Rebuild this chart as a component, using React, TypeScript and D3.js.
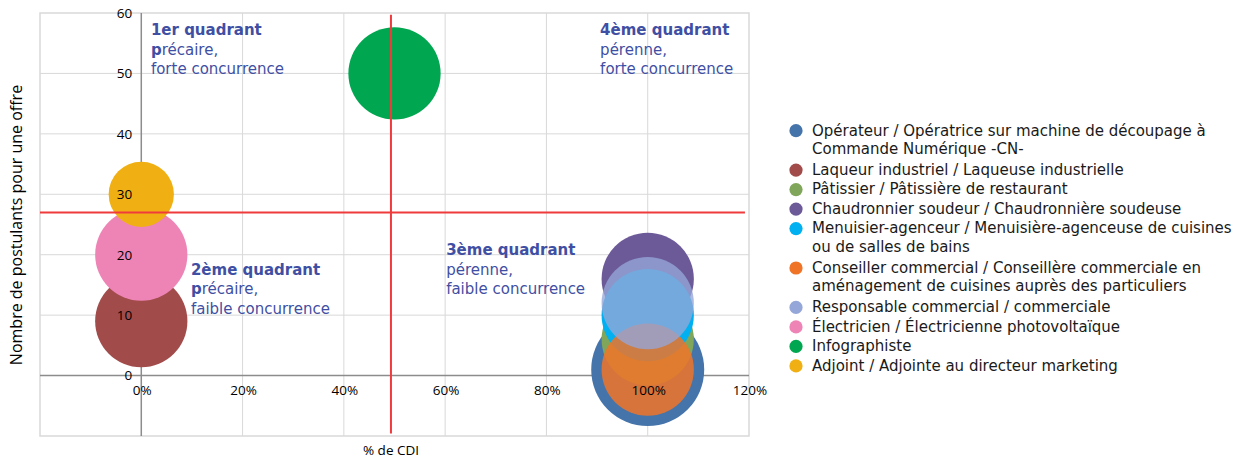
import React, { useEffect, useRef } from 'react';
import * as d3 from 'd3';

// Jobs (series), in legend / drawing order
const jobs = [
  'Opérateur / Opératrice sur machine de découpage à Commande Numérique -CN-',
  'Laqueur industriel / Laqueuse industrielle',
  'Pâtissier / Pâtissière de restaurant',
  'Chaudronnier soudeur / Chaudronnière soudeuse',
  'Menuisier-agenceur / Menuisière-agenceuse de cuisines ou de salles de bains',
  'Conseiller commercial / Conseillère commerciale en aménagement de cuisines auprès des particuliers',
  'Responsable commercial / commerciale',
  'Électricien / Électricienne photovoltaïque',
  'Infographiste',
  'Adjoint / Adjointe au directeur marketing',
];
const cdiShare = [100, 0, 100, 100, 100, 100, 100, 0, 50, 0];        // % de CDI
const applicants = [1, 9, 6, 16, 10, 1, 12, 20, 50, 30];            // postulants par offre
const bubbleSize = [3, 2, 2, 2, 2, 2, 2, 2, 2, 1];
const colors = ['#4574aa', '#a24b4b', '#7fa65a', '#6c5a98', '#00b0f0', '#f07428', '#95a6d8', '#ee84b5', '#00a650', '#f0b013'];
const opacities = [1, 1, 1, 1, 1, 0.85, 0.78, 1, 1, 1];

const xTicks = [0, 20, 40, 60, 80, 100, 120];
const yTicks = [0, 10, 20, 30, 40, 50, 60];

// Seuils (lignes rouges)
const cdiThreshold = 49.3;
const applicantThreshold = 27;

const quadrants = [
  { title: '1er quadrant', l1: 'précaire,', l2: 'forte concurrence', x: 1.9, y: 56.4 },
  { title: '2ème quadrant', l1: 'précaire,', l2: 'faible concurrence', x: 9.8, y: 16.7 },
  { title: '3ème quadrant', l1: 'pérenne,', l2: 'faible concurrence', x: 60.2, y: 20.0 },
  { title: '4ème quadrant', l1: 'pérenne,', l2: 'forte concurrence', x: 90.6, y: 56.4 },
];

const W = 1253;
const H = 459;

export default function App() {
  const ref = useRef<SVGSVGElement>(null);

  useEffect(() => {
    if (!ref.current) return;
    const svg = d3.select(ref.current);
    svg.selectAll('*').remove();

    const x = d3.scaleLinear().domain([-20, 120]).range([40, 749]);
    const y = d3.scaleLinear().domain([-10, 60]).range([436, 13]);
    const r = d3.scaleSqrt().domain([0, d3.max(bubbleSize) as number]).range([0, 56.5]);

    const grid = svg.append('g');
    // vertical gridlines
    grid.selectAll('line.vx')
      .data(xTicks.filter(t => t > 0 && t < 120))
      .enter().append('line')
      .attr('x1', d => x(d)).attr('x2', d => x(d))
      .attr('y1', y(60)).attr('y2', y(-10))
      .attr('stroke', '#d9d9d9').attr('stroke-width', 1);
    // horizontal gridlines
    grid.selectAll('line.hy')
      .data(yTicks.filter(t => t > 0 && t < 60))
      .enter().append('line')
      .attr('x1', x(-20)).attr('x2', x(120))
      .attr('y1', d => y(d)).attr('y2', d => y(d))
      .attr('stroke', '#d9d9d9').attr('stroke-width', 1);
    // plot border
    grid.append('rect')
      .attr('x', x(-20)).attr('y', y(60))
      .attr('width', x(120) - x(-20)).attr('height', y(-10) - y(60))
      .attr('fill', 'none').attr('stroke', '#d9d9d9').attr('stroke-width', 1.5);

    // axes lines at zero
    grid.append('line')
      .attr('x1', x(-20)).attr('x2', x(120)).attr('y1', y(0)).attr('y2', y(0))
      .attr('stroke', '#8c8c8c').attr('stroke-width', 1.5);
    grid.append('line')
      .attr('x1', x(0)).attr('x2', x(0)).attr('y1', y(60)).attr('y2', y(-10))
      .attr('stroke', '#8c8c8c').attr('stroke-width', 1.5);

    // bubbles
    svg.append('g').selectAll('circle')
      .data(jobs.map((name, i) => ({ name, i })))
      .enter().append('circle')
      .attr('cx', d => x(cdiShare[d.i]))
      .attr('cy', d => y(applicants[d.i]))
      .attr('r', d => r(bubbleSize[d.i]))
      .attr('fill', d => colors[d.i])
      .attr('fill-opacity', d => opacities[d.i]);

    // tick labels
    const tickFont = '"Open Sans", "Liberation Sans", sans-serif';
    svg.append('g').selectAll('text')
      .data(yTicks)
      .enter().append('text')
      .attr('x', x(0) - 9).attr('y', d => y(d)).attr('dy', '0.36em')
      .attr('text-anchor', 'end')
      .attr('font-family', tickFont).attr('font-size', 13.5).attr('fill', '#000')
      .text(d => d);
    svg.append('g').selectAll('text')
      .data(xTicks)
      .enter().append('text')
      .attr('x', d => x(d) + 1).attr('y', y(0) + 19)
      .attr('text-anchor', 'middle')
      .attr('font-family', tickFont).attr('font-size', 13.5).attr('fill', '#000')
      .text(d => `${d}%`);

    // axis titles
    svg.append('text')
      .attr('transform', `translate(22,225) rotate(-90)`)
      .attr('text-anchor', 'middle')
      .attr('font-family', tickFont).attr('font-size', 16).attr('fill', '#000')
      .text('Nombre de postulants pour une offre');
    svg.append('text')
      .attr('x', 391).attr('y', 455)
      .attr('text-anchor', 'middle')
      .attr('font-family', tickFont).attr('font-size', 13.5).attr('fill', '#000')
      .text('% de CDI');

    // red threshold lines
    svg.append('line')
      .attr('x1', x(cdiThreshold)).attr('x2', x(cdiThreshold))
      .attr('y1', y(59.7)).attr('y2', y(-9.6))
      .attr('stroke', '#ef3b3b').attr('stroke-width', 2);
    svg.append('line')
      .attr('x1', x(-20)).attr('x2', x(119.2))
      .attr('y1', y(applicantThreshold)).attr('y2', y(applicantThreshold))
      .attr('stroke', '#ef3b3b').attr('stroke-width', 2);

    // quadrant annotations
    const qFont = '"DejaVu Sans", Verdana, sans-serif';
    const q = svg.append('g').attr('font-family', qFont).attr('font-size', 15).attr('fill', '#3f4fa3');
    quadrants.forEach(d => {
      const t = q.append('text').attr('x', x(d.x)).attr('y', y(d.y));
      t.append('tspan').attr('x', x(d.x)).attr('font-weight', 'bold').text(d.title);
      const l1 = t.append('tspan').attr('x', x(d.x)).attr('dy', 19.8);
      if (d.l1 === 'précaire,') {
        l1.append('tspan').attr('font-weight', 'bold').text('p');
        l1.append('tspan').text(d.l1.slice(1));
      } else {
        l1.text(d.l1);
      }
      t.append('tspan').attr('x', x(d.x)).attr('dy', 19.8).text(d.l2);
    });

    // legend
    const legend = svg.append('g').attr('font-family', qFont).attr('font-size', 15).attr('fill', '#1a1a1a');
    const maxW = 435;
    let ly = 135.5;
    jobs.forEach((name, i) => {
      const text = legend.append('text').attr('x', 812).attr('y', ly);
      const words = name.split(' ');
      const lines: string[] = [];
      let cur = '';
      const probe = legend.append('text').attr('visibility', 'hidden');
      words.forEach(w => {
        const test = cur ? cur + ' ' + w : w;
        probe.text(test);
        const len = (probe.node() as SVGTextElement).getComputedTextLength();
        if (len > maxW && cur) {
          lines.push(cur);
          cur = w;
        } else {
          cur = test;
        }
      });
      lines.push(cur);
      probe.remove();
      lines.forEach((ln, k) => {
        text.append('tspan').attr('x', 812).attr('dy', k === 0 ? 0 : 18.4).text(ln);
      });
      legend.append('circle')
        .attr('cx', 796).attr('cy', ly - 4.8).attr('r', 6.6)
        .attr('fill', colors[i]);
      ly += (lines.length - 1) * 18.4 + (lines.length > 1 ? 21 : 19.5);
    });
  }, []);

  return (
    <svg
      ref={ref}
      width={W}
      height={H}
      style={{ position: 'absolute', left: 0, top: 0, background: '#fff' }}
    />
  );
}
